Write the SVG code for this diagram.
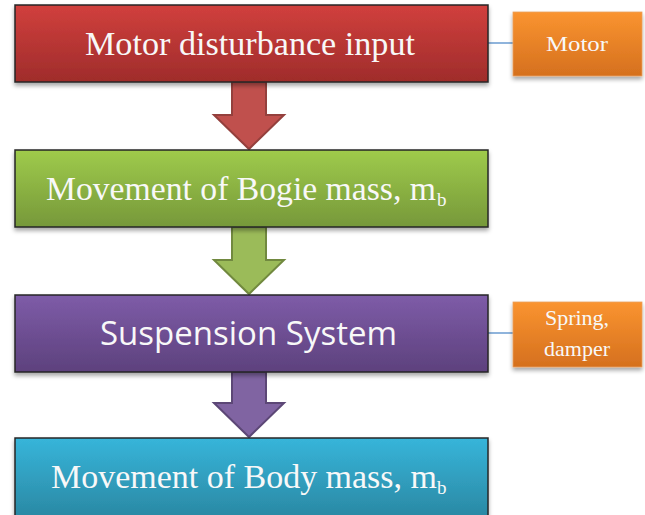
<svg xmlns="http://www.w3.org/2000/svg" width="645" height="515" viewBox="0 0 645 515">
<defs>
<linearGradient id="gRed" x1="0" y1="0" x2="0" y2="1"><stop offset="0" stop-color="#d1403d"/><stop offset="1" stop-color="#9f2c2b"/></linearGradient>
<linearGradient id="gGreen" x1="0" y1="0" x2="0" y2="1"><stop offset="0" stop-color="#9fcb4b"/><stop offset="1" stop-color="#76983a"/></linearGradient>
<linearGradient id="gPurple" x1="0" y1="0" x2="0" y2="1"><stop offset="0" stop-color="#7e5ca8"/><stop offset="1" stop-color="#5d417d"/></linearGradient>
<linearGradient id="gBlue" x1="0" y1="0" x2="0" y2="1"><stop offset="0" stop-color="#37b5da"/><stop offset="1" stop-color="#2a88a3"/></linearGradient>
<linearGradient id="gOrange" x1="0" y1="0" x2="0" y2="1"><stop offset="0" stop-color="#fa9430"/><stop offset="1" stop-color="#d5701e"/></linearGradient>
<filter id="sh" x="-5%" y="-10%" width="110%" height="130%"><feDropShadow dx="0" dy="3" stdDeviation="2" flood-color="#000" flood-opacity="0.35"/></filter>
</defs>
<style>
.box{stroke:#262626;stroke-width:1.5;filter:url(#sh)}
.side{stroke:#e8a060;stroke-width:0.8;filter:url(#sh)}
.serif{font-family:"Liberation Serif","Times New Roman",serif;fill:#f8f8f8}
.sans{font-family:"Open Sans","Noto Sans","Liberation Sans",sans-serif;fill:#f8f8f8}
.conn{stroke:#6a9bd0;stroke-width:1.5;fill:none}
</style>
<g id="connectors">
<line class="conn" x1="488" y1="43" x2="513" y2="43"/>
<line class="conn" x1="488" y1="333" x2="513" y2="333"/>
<path id="arrow1" d="M232 82 H266 V115 H284 L249 149 L214 115 H232 Z" fill="#c0504d" stroke="#94403d" stroke-width="2"/>
<path id="arrow2" d="M232 227 H266 V260 H284 L249 294 L214 260 H232 Z" fill="#9bbb59" stroke="#71893f" stroke-width="2"/>
<path id="arrow3" d="M232 372 H266 V403 H284 L249 437 L214 403 H232 Z" fill="#8064a2" stroke="#5c4776" stroke-width="2"/>
</g>
<g id="motor-disturbance">
<rect class="box" x="15" y="5" width="473" height="77" fill="url(#gRed)"/>
<text class="serif" x="85" y="55" font-size="33" textLength="330" lengthAdjust="spacingAndGlyphs">Motor disturbance  input</text>
</g>
<g id="motor">
<rect class="side" x="513" y="12" width="129" height="64" fill="url(#gOrange)"/>
<text class="serif" x="546" y="51" font-size="22" textLength="62" lengthAdjust="spacingAndGlyphs">Motor</text>
</g>
<g id="bogie">
<rect class="box" x="15" y="150" width="473" height="77" fill="url(#gGreen)"/>
<text class="serif" x="46" y="200" font-size="33" textLength="390" lengthAdjust="spacingAndGlyphs">Movement  of Bogie mass,  m</text>
<text class="serif" x="437" y="206" font-size="19">b</text>
</g>
<g id="suspension">
<rect class="box" x="15" y="295" width="473" height="77" fill="url(#gPurple)"/>
<text class="sans" x="100" y="345" font-size="32" textLength="297" lengthAdjust="spacingAndGlyphs">Suspension System</text>
</g>
<g id="spring-damper">
<rect class="side" x="513" y="302" width="129" height="65" fill="url(#gOrange)"/>
<text class="serif" x="577" y="325" font-size="22" text-anchor="middle">Spring,</text>
<text class="serif" x="577" y="356" font-size="22" text-anchor="middle">damper</text>
</g>
<g id="body">
<rect class="box" x="15" y="438" width="473" height="80" fill="url(#gBlue)"/>
<text class="serif" x="51" y="488" font-size="33" textLength="386" lengthAdjust="spacingAndGlyphs">Movement  of Body  mass,  m</text>
<text class="serif" x="437" y="494" font-size="19">b</text>
</g>
</svg>
